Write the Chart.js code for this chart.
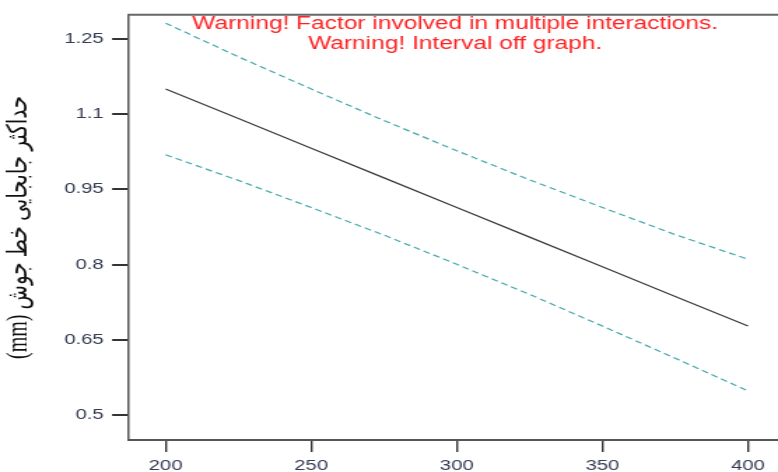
<!DOCTYPE html>
<html>
<head>
<meta charset="utf-8">
<script src="https://cdn.jsdelivr.net/npm/chart.js@4.4.1/dist/chart.umd.min.js"></script>
<style>
html, body { margin: 0; padding: 0; background: #ffffff; overflow: hidden; }
</style>
</head>
<body>
<!-- the reference is stretched sideways, so the canvas is drawn narrow and widened by css -->
<canvas id="chart" width="556" height="472" style="width:778px;height:472px;"></canvas>
<script>
// Data
const xValues = [200, 225, 250, 275, 300, 325, 350, 375, 400];
const predicted = [1.150, 1.091, 1.032, 0.973, 0.914, 0.855, 0.796, 0.737, 0.678];
const upperBand = [1.281, 1.214, 1.150, 1.087, 1.027, 0.969, 0.914, 0.860, 0.811];
const lowerBand = [1.019, 0.968, 0.914, 0.859, 0.801, 0.741, 0.678, 0.614, 0.549];

const xTicks = [200, 250, 300, 350, 400];
const yTicks = [0.5, 0.65, 0.8, 0.95, 1.1, 1.25];
const yTickLabels = ['0.5', '0.65', '0.8', '0.95', '1.1', '1.25'];

const yTitle = '(mm) حداکثر جابجایی خط جوش';
const warningLines = [
    'Warning! Factor involved in multiple interactions.',
    'Warning! Interval off graph.'
];

const tickFont = { family: '"Liberation Sans", Arial, sans-serif', size: 14.5 };
const tickColor = '#343c52';

function toPoints(ys) {
    return xValues.map((x, i) => ({ x: x, y: ys[i] }));
}

// Top frame line and the red warnings inside the plot
const frameAndWarnings = {
    id: 'frameAndWarnings',
    afterDraw(chart) {
        const { ctx, chartArea } = chart;
        ctx.save();
        ctx.strokeStyle = '#666666';
        ctx.lineWidth = 2;
        ctx.beginPath();
        ctx.moveTo(chartArea.left, chartArea.top);
        ctx.lineTo(chartArea.right, chartArea.top);
        ctx.stroke();

        ctx.fillStyle = '#ff2222';
        ctx.font = '17.5px "Liberation Sans", Arial, sans-serif';
        ctx.textAlign = 'center';
        ctx.textBaseline = 'alphabetic';
        const cx = (chartArea.left + chartArea.right) / 2 + 1.5;
        warningLines.forEach((line, i) => ctx.fillText(line, cx, 29 + i * 20));
        ctx.restore();
    }
};

let ctx = document.getElementById('chart').getContext('2d');
let chart = new Chart(ctx, {
    type: 'line',
    data: {
        datasets: [
            {
                label: 'upper',
                data: toPoints(upperBand),
                borderColor: '#45a9ad',
                borderWidth: 1.2,
                borderDash: [5, 3],
                pointRadius: 0,
                fill: false,
            },
            {
                label: 'predicted',
                data: toPoints(predicted),
                borderColor: '#3a3a3a',
                borderWidth: 1.2,
                pointRadius: 0,
                fill: false,
            },
            {
                label: 'lower',
                data: toPoints(lowerBand),
                borderColor: '#45a9ad',
                borderWidth: 1.2,
                borderDash: [5, 3],
                pointRadius: 0,
                fill: false,
            },
        ],
    },
    options: {
        responsive: false,
        devicePixelRatio: 1,
        animation: false,
        layout: {
            padding: { top: 10, left: 0, right: 0, bottom: 0 },
        },
        scales: {
            x: {
                type: 'linear',
                bounds: 'data',
                min: 187.1,
                max: 410.3,
                afterBuildTicks: (scale) => {
                    scale.ticks = xTicks.map(v => ({ value: v }));
                },
                afterFit: (scale) => {
                    scale.height = 32;
                },
                ticks: {
                    font: tickFont,
                    color: tickColor,
                    padding: 5,
                    maxRotation: 0,
                    callback: (value) => String(value),
                },
                grid: {
                    drawOnChartArea: false,
                    tickLength: 12,
                    color: '#333333',
                    lineWidth: 1.4,
                },
                border: {
                    color: '#555555',
                    width: 2,
                },
            },
            y: {
                type: 'linear',
                bounds: 'data',
                min: 0.4512,
                max: 1.2978,
                afterBuildTicks: (scale) => {
                    scale.ticks = yTicks.map(v => ({ value: v }));
                },
                afterFit: (scale) => {
                    scale.width = 91.5;
                },
                ticks: {
                    font: tickFont,
                    color: tickColor,
                    padding: 6,
                    callback: (value, index) => yTickLabels[index],
                },
                grid: {
                    drawOnChartArea: false,
                    tickLength: 11.4,
                    color: '#333333',
                    lineWidth: 2,
                },
                border: {
                    color: '#555555',
                    width: 1.5,
                },
                title: {
                    display: true,
                    text: yTitle,
                    color: '#111111',
                    font: { family: '"Liberation Serif", "DejaVu Sans", serif', size: 20 },
                    padding: { top: 2, bottom: 0 },
                },
            },
        },
        plugins: {
            legend: { display: false },
            tooltip: { enabled: false },
        },
    },
    plugins: [frameAndWarnings],
});
</script>
</body>
</html>
